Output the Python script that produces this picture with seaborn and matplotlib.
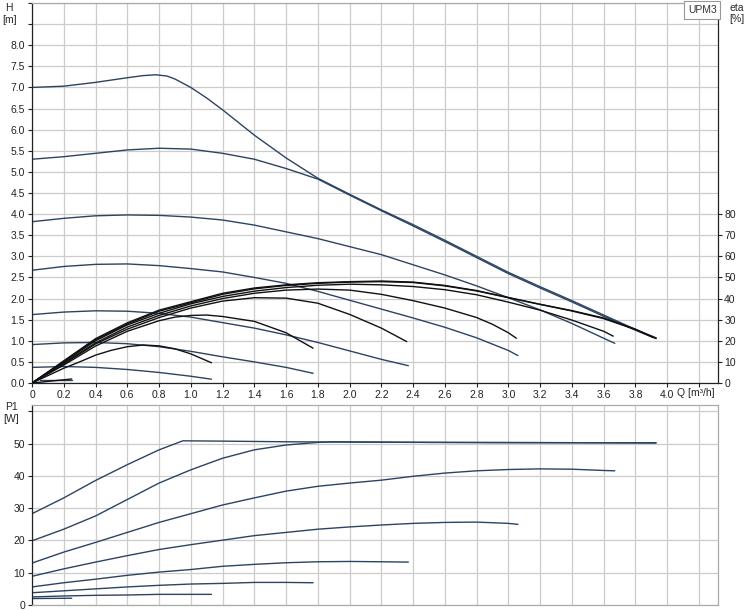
import matplotlib
matplotlib.use('Agg')
import matplotlib.pyplot as plt
import seaborn as sns
import numpy as np

# ─── Data ────────────────────────────────────────────────────────────────────
# H-Q curves [m], one per speed setting
q_h1 = [0, 0.2, 0.4, 0.6, 0.7, 0.78, 0.85, 0.9, 1.0, 1.1, 1.2, 1.4, 1.6, 1.8, 2.0,
        2.2, 2.4, 2.6, 2.8, 3.0, 3.2, 3.4, 3.6, 3.7, 3.8, 3.93]
h1 = [7.0, 7.03, 7.12, 7.23, 7.28, 7.3, 7.27, 7.2, 7.0, 6.75, 6.47, 5.87, 5.33,
      4.85, 4.47, 4.1, 3.75, 3.38, 3.0, 2.62, 2.28, 1.95, 1.61, 1.44, 1.27, 1.07]
q_h2 = [0, 0.2, 0.4, 0.6, 0.8, 1.0, 1.2, 1.4, 1.6, 1.8, 2.0, 2.2, 2.4, 2.6, 2.8,
        3.0, 3.2, 3.4, 3.6, 3.7, 3.8, 3.93]
h2 = [5.3, 5.36, 5.44, 5.52, 5.56, 5.54, 5.44, 5.3, 5.08, 4.83, 4.45, 4.08, 3.72,
      3.35, 2.97, 2.59, 2.25, 1.92, 1.58, 1.42, 1.25, 1.05]
q_h3 = [0, 0.2, 0.4, 0.6, 0.8, 1.0, 1.2, 1.4, 1.6, 1.8, 2.0, 2.2, 2.4, 2.6, 2.8,
        3.0, 3.2, 3.4, 3.6, 3.67]
h3 = [3.82, 3.9, 3.96, 3.98, 3.97, 3.93, 3.86, 3.74, 3.58, 3.42, 3.23, 3.04, 2.8,
      2.56, 2.3, 2.02, 1.73, 1.41, 1.06, 0.94]
q_h4 = [0, 0.2, 0.4, 0.6, 0.8, 1.0, 1.2, 1.4, 1.6, 1.8, 2.0, 2.2, 2.4, 2.6, 2.8,
        3.0, 3.06]
h4 = [2.67, 2.76, 2.81, 2.82, 2.78, 2.71, 2.63, 2.5, 2.36, 2.17, 1.96, 1.75, 1.54,
      1.32, 1.07, 0.77, 0.65]
q_h5 = [0, 0.2, 0.4, 0.6, 0.8, 1.0, 1.2, 1.4, 1.6, 1.8, 2.0, 2.2, 2.37]
h5 = [1.62, 1.68, 1.71, 1.7, 1.65, 1.56, 1.43, 1.3, 1.14, 0.96, 0.76, 0.56, 0.41]
q_h6 = [0, 0.2, 0.4, 0.6, 0.8, 1.0, 1.2, 1.4, 1.6, 1.77]
h6 = [0.91, 0.95, 0.96, 0.93, 0.86, 0.75, 0.62, 0.5, 0.37, 0.23]
q_h7 = [0, 0.2, 0.4, 0.6, 0.8, 1.0, 1.13]
h7 = [0.37, 0.39, 0.37, 0.32, 0.25, 0.16, 0.09]
q_h8 = [0.05, 0.25]
h8 = [0.07, 0.07]

# efficiency curves eta [%]
q_e1 = [0, 0.2, 0.4, 0.6, 0.8, 1.0, 1.2, 1.4, 1.6, 1.8, 2.0, 2.2, 2.4, 2.6, 2.8,
        3.0, 3.2, 3.4, 3.6, 3.8, 3.91]
e1 = [0, 10.5, 21, 28.5, 34.5, 38.5, 42.5, 45, 46.5, 47.5, 48, 48.3, 47.8, 46.2,
      43.8, 40.5, 37.3, 34.3, 30.8, 25.5, 21.6]
q_e2 = [0, 0.2, 0.4, 0.6, 0.8, 1.0, 1.2, 1.4, 1.6, 1.8, 2.0, 2.2, 2.4, 2.6, 2.8,
        3.0, 3.2, 3.4, 3.6, 3.8, 3.93]
e2 = [0, 10.2, 20.5, 28, 34, 38, 42, 44.6, 46.2, 47.2, 47.8, 48, 47.6, 46, 43.6,
      40.4, 37.2, 34.1, 30.5, 25.3, 21.2]
q_e3 = [0, 0.2, 0.4, 0.6, 0.8, 1.0, 1.2, 1.4, 1.6, 1.8, 2.0, 2.2, 2.4, 2.6, 2.8,
        3.0, 3.2, 3.4, 3.6, 3.66]
e3 = [0, 10, 20, 27.5, 33, 37.5, 41, 43.5, 45.2, 46.3, 46.8, 46.5, 45.7, 44.2,
      41.8, 38.3, 34.5, 29.8, 24.5, 22.2]
q_e4 = [0, 0.2, 0.4, 0.6, 0.8, 1.0, 1.2, 1.4, 1.6, 1.8, 2.0, 2.2, 2.4, 2.6, 2.8,
        2.9, 3.0, 3.05]
e4 = [0, 9.5, 19, 26.5, 32, 36.5, 40, 42.5, 44, 44.5, 44, 42, 39, 35.5, 31, 27.8,
      23.8, 21.2]
q_e5 = [0, 0.2, 0.4, 0.6, 0.8, 1.0, 1.2, 1.4, 1.6, 1.8, 2.0, 2.2, 2.36]
e5 = [0, 9, 18.5, 25.5, 31, 35.5, 38.8, 40.4, 40.2, 37.8, 32.5, 26, 19.6]
q_e6 = [0, 0.2, 0.4, 0.6, 0.8, 0.9, 1.0, 1.1, 1.2, 1.4, 1.6, 1.77]
e6 = [0, 8.5, 17.5, 24.5, 29.5, 31.2, 32, 32.2, 31.5, 29.2, 23.8, 16.5]
q_e7 = [0, 0.1, 0.2, 0.3, 0.4, 0.5, 0.6, 0.7, 0.8, 0.9, 1.0, 1.13]
e7 = [0, 3.5, 7, 10, 13.2, 15.5, 17.2, 18, 17.6, 16.2, 13.8, 9.6]
q_e8 = [0, 0.25]
e8 = [0, 1.9]

# power curves P1 [W]
q_p1 = [0, 0.2, 0.4, 0.6, 0.8, 0.95, 1.2, 1.6, 2.0, 2.5, 3.0, 3.5, 3.93]
p1 = [28.3, 33.2, 38.6, 43.5, 48.1, 50.9, 50.8, 50.6, 50.5, 50.4, 50.4, 50.3, 50.3]
q_p2 = [0, 0.2, 0.4, 0.6, 0.8, 1.0, 1.2, 1.4, 1.6, 1.8, 1.9, 2.2, 2.6, 3.0, 3.5, 3.93]
p2 = [19.9, 23.5, 27.6, 32.7, 37.8, 41.9, 45.5, 48.1, 49.6, 50.4, 50.6, 50.5, 50.4,
      50.3, 50.3, 50.2]
q_p3 = [0, 0.2, 0.4, 0.6, 0.8, 1.0, 1.2, 1.4, 1.6, 1.8, 2.0, 2.2, 2.4, 2.6, 2.8,
        3.0, 3.2, 3.4, 3.6, 3.67]
p3 = [13.0, 16.4, 19.4, 22.5, 25.6, 28.3, 31.0, 33.2, 35.3, 36.8, 37.8, 38.7, 39.9,
      40.9, 41.6, 42.0, 42.2, 42.1, 41.7, 41.6]
q_p4 = [0, 0.2, 0.4, 0.6, 0.8, 1.0, 1.2, 1.4, 1.6, 1.8, 2.0, 2.2, 2.4, 2.6, 2.8,
        3.0, 3.06]
p4 = [8.9, 11.2, 13.3, 15.3, 17.2, 18.7, 20.1, 21.5, 22.5, 23.5, 24.2, 24.8, 25.3,
      25.6, 25.7, 25.3, 25.0]
q_p5 = [0, 0.2, 0.4, 0.6, 0.8, 1.0, 1.2, 1.4, 1.6, 1.8, 2.0, 2.2, 2.37]
p5 = [5.6, 6.9, 8.0, 9.2, 10.2, 11.0, 12.0, 12.6, 13.1, 13.4, 13.5, 13.4, 13.3]
q_p6 = [0, 0.2, 0.4, 0.6, 0.8, 1.0, 1.2, 1.4, 1.6, 1.77]
p6 = [3.8, 4.4, 5.0, 5.6, 6.1, 6.5, 6.7, 7.0, 7.0, 6.9]
q_p7 = [0, 0.2, 0.4, 0.6, 0.8, 1.0, 1.13]
p7 = [2.5, 2.8, 3.0, 3.1, 3.3, 3.3, 3.3]
q_p8 = [0, 0.25]
p8 = [2.0, 2.1]

H_CURVES = [(q_h1, h1), (q_h2, h2), (q_h3, h3), (q_h4, h4), (q_h5, h5),
            (q_h6, h6), (q_h7, h7), (q_h8, h8)]
ETA_CURVES = [(q_e1, e1), (q_e2, e2), (q_e3, e3), (q_e4, e4), (q_e5, e5),
              (q_e6, e6), (q_e7, e7), (q_e8, e8)]
P_CURVES = [(q_p1, p1), (q_p2, p2), (q_p3, p3), (q_p4, p4), (q_p5, p5),
            (q_p6, p6), (q_p7, p7), (q_p8, p8)]

q_ticks = np.round(np.arange(0, 4.21, 0.2), 1)
q_labels = ['0'] + [f'{v:.1f}' for v in q_ticks[1:-1]] + ['']
h_ticks = np.arange(0, 9.01, 0.5)
h_labels = [f'{v:.1f}' if v <= 8.0 else '' for v in h_ticks]
eta_ticks = list(range(0, 81, 10))
p_ticks = list(range(0, 61, 10))
p_labels = [str(v) if v <= 50 else '' for v in p_ticks]

# ─── Style ───────────────────────────────────────────────────────────────────
sns.set_theme(style='whitegrid')
plt.rcParams['font.family'] = ['Liberation Sans', 'DejaVu Sans']
plt.rcParams['font.size'] = 7.5

BLUE = '#2b4462'
BLACK = '#111111'
GRID = '#cccccc'
W, H = 750, 610

fig = plt.figure(figsize=(7.5, 6.1), dpi=100)
ax = fig.add_axes([32 / W, 1 - 383 / H, 686 / W, 380 / H])
axp = fig.add_axes([32 / W, 5 / H, 686 / W, 200 / H])
ax2 = ax.twinx()

# ─── Top panel: H and eta ────────────────────────────────────────────────────
for q, v in H_CURVES:
    sns.lineplot(x=q, y=v, ax=ax, color=BLUE, linewidth=1.0, sort=False,
                 estimator=None)
for q, v in ETA_CURVES:
    sns.lineplot(x=q, y=v, ax=ax2, color=BLACK, linewidth=1.0, sort=False,
                 estimator=None)

ax.set_xlim(0, 4.32)
ax.set_ylim(0, 9.0)
ax2.set_ylim(0, 180)
ax.set_xticks(q_ticks)
ax.set_xticklabels(q_labels)
ax.set_yticks(h_ticks)
ax.set_yticklabels(h_labels)
ax2.set_yticks(eta_ticks)
ax2.set_yticklabels([str(v) for v in eta_ticks])
ax2.grid(False)

# ─── Bottom panel: P1 ───────────────────────────────────────────────────────
for q, v in P_CURVES:
    sns.lineplot(x=q, y=v, ax=axp, color=BLUE, linewidth=1.0, sort=False,
                 estimator=None)
axp.set_xlim(0, 4.32)
axp.set_ylim(0, 62)
axp.set_xticks(q_ticks)
axp.set_xticklabels([])
axp.set_yticks(p_ticks)
axp.set_yticklabels(p_labels)

for a in (ax, axp):
    a.grid(True, color=GRID, linewidth=0.9)
    a.set_axisbelow(True)
    a.set_xlabel('')
    a.set_ylabel('')
    a.set_facecolor('white')
    a.tick_params(axis='both', length=3, width=0.8, pad=2, labelsize=7.5,
                  colors='#222222', direction='out')
    for s in a.spines.values():
        s.set_color('#aaaaaa')
        s.set_linewidth(0.9)
    a.spines['left'].set_color('#222222')

ax.tick_params(axis='y', left=True)
ax.tick_params(axis='x', bottom=True)
ax.spines['bottom'].set_color('#222222')
ax.spines['right'].set_color('#222222')
axp.tick_params(axis='x', bottom=False)
axp.tick_params(axis='y', left=True)
ax2.tick_params(axis='y', right=True, length=3, width=0.8, pad=1.5,
                labelsize=7.5, colors='#222222')
ax2.set_ylabel('')
for s in ax2.spines.values():
    s.set_visible(False)

ax.text(0.998, 0.995, 'UPM3', transform=ax.transAxes, ha='right', va='top',
        fontsize=7.5, color='#333333',
        bbox=dict(boxstyle='square,pad=0.35', fc='white', ec='#999999', lw=0.8))

# axis captions
fig.text(9 / W, 1 - 8 / H, 'H', ha='center', va='center', fontsize=7.5)
fig.text(10 / W, 1 - 20 / H, '[m]', ha='center', va='center', fontsize=7.5)
fig.text(737 / W, 1 - 8 / H, 'eta', ha='center', va='center', fontsize=7.5)
fig.text(737 / W, 1 - 19 / H, '[%]', ha='center', va='center', fontsize=7.5)
fig.text(11 / W, 1 - 407 / H, 'P1', ha='center', va='center', fontsize=7.5)
fig.text(11 / W, 1 - 419 / H, '[W]', ha='center', va='center', fontsize=7.5)
fig.text(677 / W, 1 - 393 / H, 'Q [m³/h]', ha='left', va='center', fontsize=7.5)

fig.savefig('out.png', dpi=100)
